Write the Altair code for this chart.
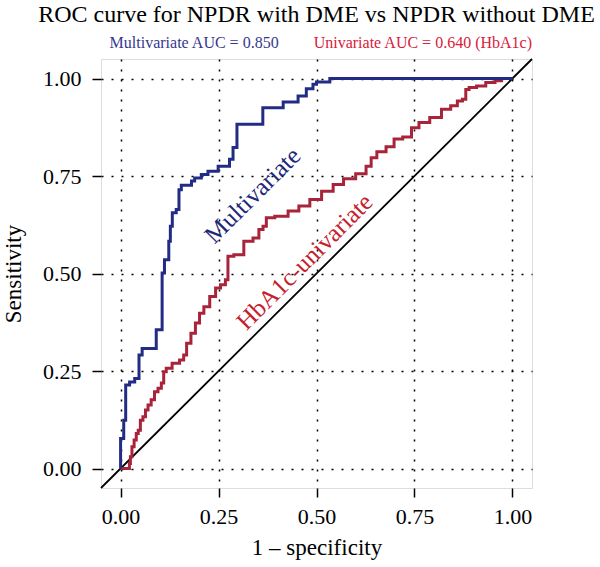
import altair as alt
import pandas as pd

# ROC curve of the multivariate model (false positive rate, sensitivity)
multi_fpr = [0.000, 0.000, 0.008, 0.008, 0.013, 0.013, 0.023, 0.023, 0.036, 0.036,
             0.047, 0.047, 0.055, 0.055, 0.091, 0.091, 0.106, 0.106, 0.112, 0.112,
             0.123, 0.123, 0.127, 0.127, 0.132, 0.132, 0.142, 0.142, 0.149, 0.149,
             0.155, 0.155, 0.181, 0.181, 0.189, 0.189, 0.206, 0.206, 0.223, 0.223,
             0.249, 0.249, 0.278, 0.278, 0.287, 0.287, 0.297, 0.297, 0.363, 0.363,
             0.415, 0.415, 0.453, 0.453, 0.474, 0.474, 0.491, 0.491, 0.500, 0.500,
             0.534, 0.534, 1.000]
multi_tpr = [0.000, 0.077, 0.077, 0.124, 0.124, 0.214, 0.214, 0.222, 0.222, 0.231,
             0.231, 0.291, 0.291, 0.308, 0.308, 0.356, 0.356, 0.501, 0.501, 0.535,
             0.535, 0.583, 0.583, 0.621, 0.621, 0.656, 0.656, 0.664, 0.664, 0.715,
             0.715, 0.726, 0.726, 0.737, 0.737, 0.745, 0.745, 0.754, 0.754, 0.762,
             0.762, 0.775, 0.775, 0.793, 0.793, 0.823, 0.823, 0.883, 0.883, 0.925,
             0.925, 0.940, 0.940, 0.955, 0.955, 0.974, 0.974, 0.985, 0.985, 0.991,
             0.991, 1.000, 1.000]

# ROC curve of HbA1c alone
uni_fpr = [0.000, 0.022, 0.023, 0.027, 0.031, 0.038, 0.042, 0.048, 0.053, 0.061,
           0.066, 0.074, 0.082, 0.091, 0.100, 0.108, 0.112, 0.121, 0.142, 0.159,
           0.163, 0.174, 0.185, 0.197, 0.206, 0.219, 0.236, 0.249, 0.261, 0.274,
           0.274, 0.304, 0.325, 0.351, 0.355, 0.372, 0.372, 0.415, 0.440, 0.470,
           0.496, 0.530, 0.555, 0.583, 0.617, 0.636, 0.643, 0.665, 0.690, 0.706,
           0.734, 0.751, 0.772, 0.806, 0.832, 0.853, 0.866, 0.879, 0.883, 0.896,
           0.921, 0.943, 0.968, 0.976, 1.000]
uni_tpr = [0.000, 0.000, 0.013, 0.030, 0.056, 0.073, 0.090, 0.098, 0.124, 0.133,
           0.150, 0.163, 0.176, 0.197, 0.206, 0.219, 0.248, 0.257, 0.270, 0.278,
           0.291, 0.321, 0.347, 0.373, 0.398, 0.415, 0.441, 0.463, 0.471, 0.484,
           0.544, 0.548, 0.583, 0.591, 0.613, 0.621, 0.643, 0.647, 0.660, 0.673,
           0.690, 0.711, 0.728, 0.743, 0.756, 0.775, 0.797, 0.812, 0.825, 0.845,
           0.850, 0.874, 0.887, 0.900, 0.921, 0.930, 0.942, 0.947, 0.972, 0.977,
           0.981, 0.990, 0.994, 1.000, 1.000]

# chance line, drawn corner to corner of the panel
diag_ends = [-0.05, 1.05]

tick_values = [0.0, 0.25, 0.5, 0.75, 1.0]
axis_domain = [-0.05, 1.05]

# in-plot curve labels
curve_labels = ["Multivariate", "HbA1c-univariate"]
curve_label_x = [0.337, 0.470]
curve_label_y = [0.700, 0.530]

# AUC summary line above the panel
auc_labels = ["Multivariate AUC = 0.850", "Univariate AUC = 0.640 (HbA1c)"]
auc_x = [-0.028, 1.05]
auc_y = [1.090, 1.090]

BLUE = "#222c84"
RED = "#a8243a"
FONT = "Liberation Serif"

multi = pd.DataFrame({"fpr": multi_fpr, "tpr": multi_tpr, "i": range(len(multi_fpr))})
uni = pd.DataFrame({"fpr": uni_fpr, "tpr": uni_tpr, "i": range(len(uni_fpr))})
diag = pd.DataFrame({"fpr": diag_ends, "tpr": diag_ends})

xscale = alt.Scale(domain=axis_domain, nice=False, zero=False)
yscale = alt.Scale(domain=axis_domain, nice=False, zero=False)

common_axis = dict(
    values=tick_values, format=".2f", grid=True, gridDash=[2, 8], gridColor="black",
    gridWidth=1.5, gridOpacity=1, tickSize=9, tickColor="black", tickWidth=1.5,
    domain=False, labelFont=FONT, labelFontSize=22, labelColor="black",
    titleFont=FONT, titleFontSize=23, titleFontWeight="normal", titleColor="black",
)

x_enc = alt.X("fpr:Q", scale=xscale,
              axis=alt.Axis(title="1 – specificity", labelPadding=9, titlePadding=9,
                            **common_axis))
y_enc = alt.Y("tpr:Q", scale=yscale,
              axis=alt.Axis(title="Sensitivity", labelPadding=11, titlePadding=17,
                            **common_axis))

diag_line = alt.Chart(diag).mark_line(color="black", strokeWidth=1.8).encode(
    x=x_enc, y=y_enc
)

multi_line = alt.Chart(multi).mark_line(color=BLUE, strokeWidth=3).encode(
    x="fpr:Q", y="tpr:Q", order="i:Q"
)

uni_line = alt.Chart(uni).mark_line(color=RED, strokeWidth=3, interpolate="step").encode(
    x="fpr:Q", y="tpr:Q", order="i:Q"
)

multi_label = alt.Chart(
    pd.DataFrame({"fpr": [curve_label_x[0]], "tpr": [curve_label_y[0]], "t": [curve_labels[0]]})
).mark_text(font=FONT, fontSize=25, color="#22277a", angle=315,
            align="center", baseline="middle").encode(x="fpr:Q", y="tpr:Q", text="t:N")

uni_label = alt.Chart(
    pd.DataFrame({"fpr": [curve_label_x[1]], "tpr": [curve_label_y[1]], "t": [curve_labels[1]]})
).mark_text(font=FONT, fontSize=25, color="#c4202e", angle=315,
            align="center", baseline="middle").encode(x="fpr:Q", y="tpr:Q", text="t:N")

auc_multi = alt.Chart(
    pd.DataFrame({"fpr": [auc_x[0]], "tpr": [auc_y[0]], "t": [auc_labels[0]]})
).mark_text(font=FONT, fontSize=16, color="#37388f", align="left",
            baseline="middle").encode(x="fpr:Q", y="tpr:Q", text="t:N")

auc_uni = alt.Chart(
    pd.DataFrame({"fpr": [auc_x[1]], "tpr": [auc_y[1]], "t": [auc_labels[1]]})
).mark_text(font=FONT, fontSize=16, color="#d8203a", align="right",
            baseline="middle").encode(x="fpr:Q", y="tpr:Q", text="t:N")

chart = alt.layer(
    diag_line, uni_line, multi_line, multi_label, uni_label, auc_multi, auc_uni
).properties(
    width=431,
    height=429,
    autosize=alt.AutoSizeParams(type="none"),
    padding={"left": 101, "top": 59, "right": 68, "bottom": 79},
    title=alt.TitleParams(
        text="ROC curve for NPDR with DME vs NPDR without DME",
        font=FONT, fontSize=24, fontWeight="normal", color="black",
        anchor="middle", frame="group", offset=8,
    ),
).configure_view(
    stroke="black", strokeWidth=1.5
).configure(background="white")

chart.save("out.html", embed_options={"renderer": "svg", "actions": False})
